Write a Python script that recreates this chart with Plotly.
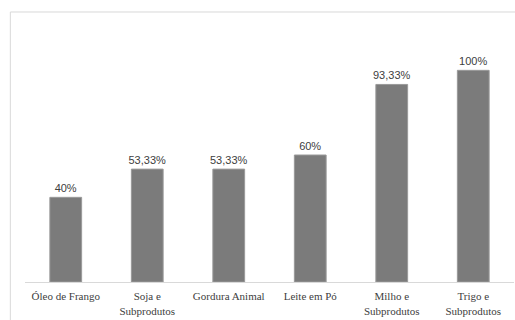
import plotly.graph_objects as go

categorias = ["Óleo de Frango", "Soja e<br>Subprodutos", "Gordura Animal",
              "Leite em Pó", "Milho e<br>Subprodutos", "Trigo e<br>Subprodutos"]
percentuais = [40, 53.33, 53.33, 60, 93.33, 100]


def rotulo(v):
    s = f"{v:g}".replace(".", ",")
    return s + "%"


textos = [rotulo(v) for v in percentuais]

fig = go.Figure(go.Bar(
    x=categorias,
    y=percentuais,
    text=textos,
    textposition="outside",
    constraintext="none",
    cliponaxis=False,
    width=0.39,
    marker=dict(color="#7b7b7b", line=dict(color="#9a9a9a", width=1)),
    textfont=dict(family="Liberation Sans, Arial, sans-serif", size=11, color="#404040"),
    outsidetextfont=dict(family="Liberation Sans, Arial, sans-serif", size=11, color="#404040"),
))

fig.update_layout(
    width=515, height=320,
    margin=dict(l=25, r=1, t=28, b=38),
    paper_bgcolor="white", plot_bgcolor="white",
    showlegend=False,
    xaxis=dict(
        showgrid=False, showline=True, linecolor="#d9d9d9", linewidth=1,
        ticks="", ticklabelstandoff=4,
        tickfont=dict(family="Liberation Serif, Times New Roman, serif",
                      size=11, color="#404040"),
        tickangle=0,
    ),
    yaxis=dict(range=[0, 120], visible=False),
    shapes=[dict(type="rect", xref="paper", yref="paper",
                 x0=-0.03, x1=1.05, y0=-0.5, y1=1.063,
                 line=dict(color="#d9d9d9", width=1), layer="below")],
)

fig.write_html("out.html")
